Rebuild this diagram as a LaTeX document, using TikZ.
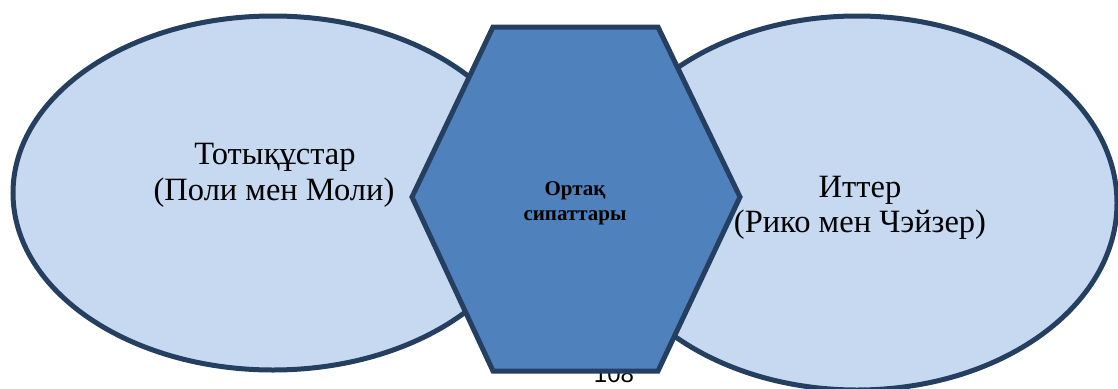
\documentclass[tikz,border=0pt]{standalone}
\usepackage{fontspec}
\setmainfont{Liberation Serif}
\newfontfamily\numfont{Liberation Sans}
\usetikzlibrary{shapes.geometric}
\definecolor{edgeblue}{HTML}{243F60}
\definecolor{lightfill}{HTML}{C6D9F1}
\definecolor{hexfill}{HTML}{4F81BD}
\tikzset{
  oval/.style={ellipse, draw=edgeblue, fill=lightfill, line width=5pt, inner sep=0pt},
  bigtext/.style={font=\fontsize{32.5}{36}\selectfont, inner sep=0pt, anchor=base},
  midtext/.style={font=\fontsize{21}{25}\selectfont\bfseries, inner sep=0pt, anchor=base},
  hexshape/.style={draw=edgeblue, fill=hexfill, line width=5pt, line join=miter},
}
\begin{document}
\begin{tikzpicture}[x=1pt,y=-1pt]
\useasboundingbox (0,0) rectangle (1118,388);
\clip (0,0) rectangle (1118,388);
\node[oval, minimum width=520pt, minimum height=354pt] (left) at (273,193) {};
\node[oval, minimum width=520pt, minimum height=374pt] (right) at (857,203) {};
\node[font=\numfont\fontsize{24}{28}\selectfont, inner sep=0pt, anchor=base] (page) at (614,382) {108};
\coordinate (h1) at (493,27);
\coordinate (h2) at (658,27);
\coordinate (h3) at (740,197);
\coordinate (h4) at (658,371);
\coordinate (h5) at (493,371);
\coordinate (h6) at (412,197);
\draw[hexshape] (h1) -- (h2) -- (h3) -- (h4) -- (h5) -- (h6) -- cycle;
\node[bigtext] (l1) at (275,164) {Тотықұстар};
\node[bigtext] (l2) at (274,200) {(Поли мен Моли)};
\node[bigtext] (r1) at (860,197) {Иттер};
\node[bigtext] (r2) at (860,232) {(Рико мен Чэйзер)};
\node[midtext] (m1) at (575,195) {Ортақ};
\node[midtext] (m2) at (575,220) {сипаттары};
\end{tikzpicture}
\end{document}
